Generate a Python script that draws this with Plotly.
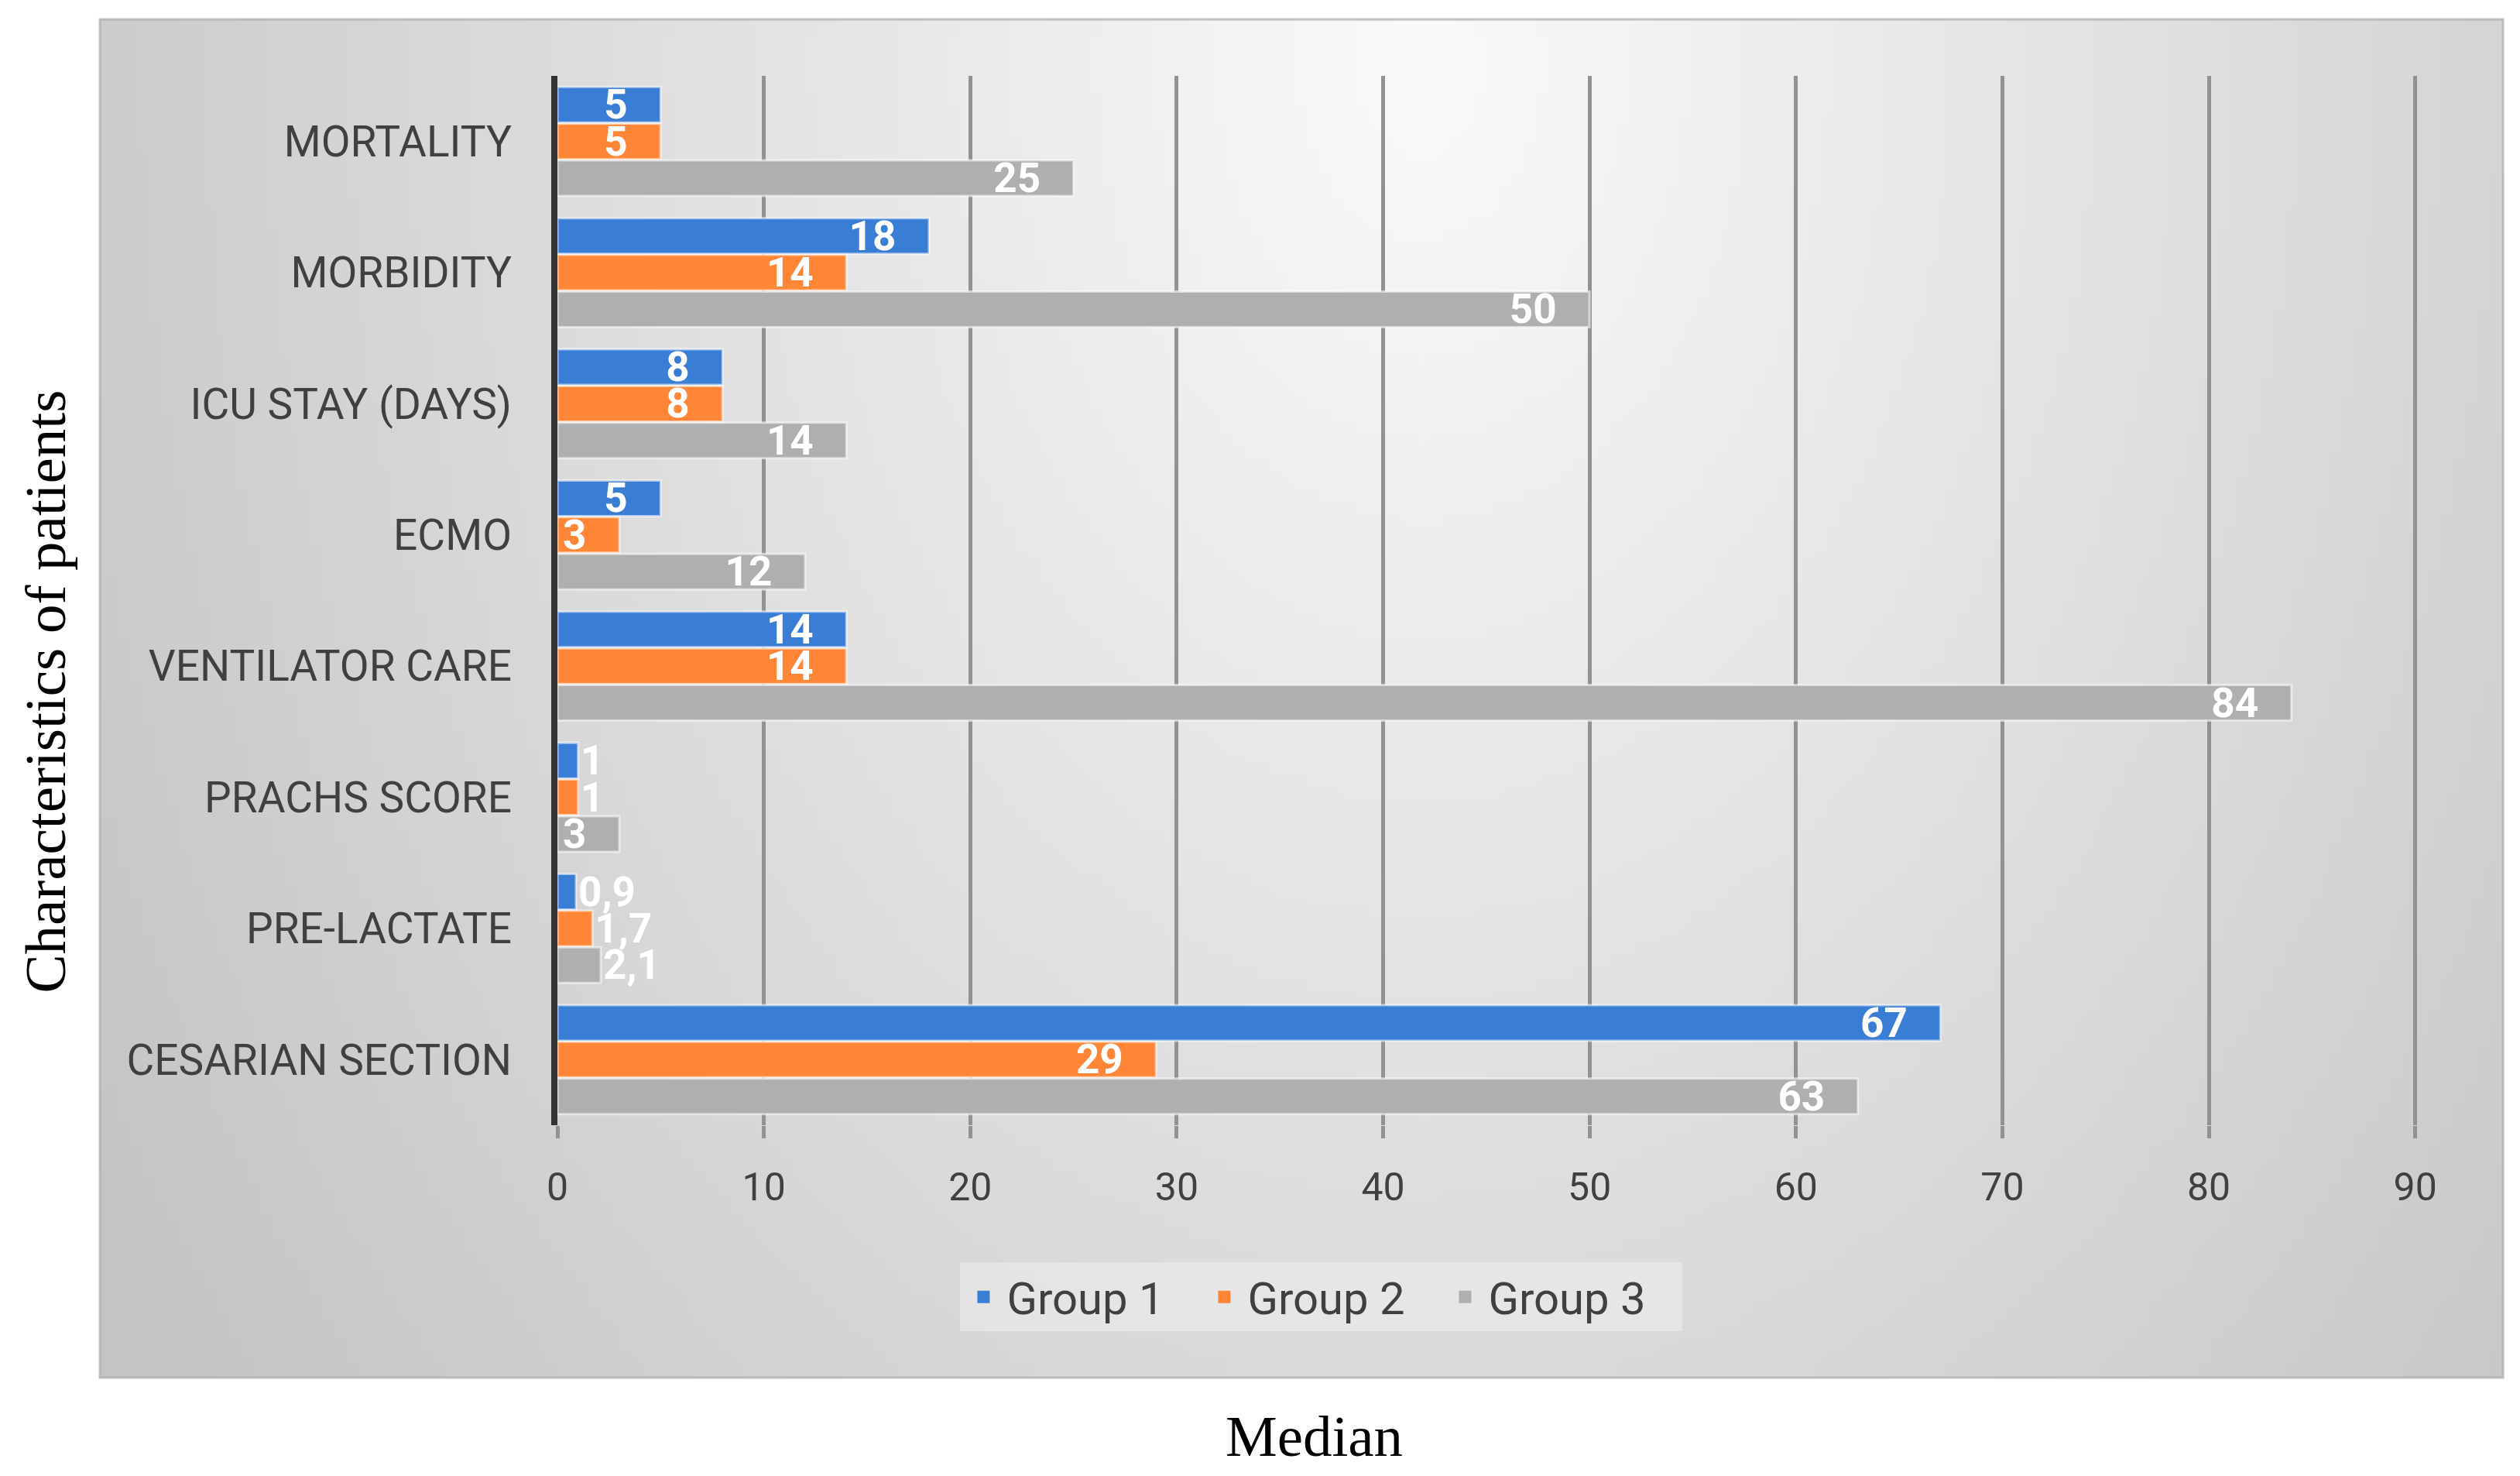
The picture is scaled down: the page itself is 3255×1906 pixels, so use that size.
import base64
import struct
import zlib

import plotly.graph_objects as go

# ---------------- data ----------------
categories = ["MORTALITY", "MORBIDITY", "ICU STAY (DAYS)", "ECMO",
              "VENTILATOR CARE", "PRACHS SCORE", "PRE-LACTATE", "CESARIAN SECTION"]
group1 = [5, 18, 8, 5, 14, 1, 0.9, 67]
group2 = [5, 14, 8, 3, 14, 1, 1.7, 29]
group3 = [25, 50, 14, 12, 84, 3, 2.1, 63]
series_names = ["Group 1", "Group 2", "Group 3"]
x_ticks = [0, 10, 20, 30, 40, 50, 60, 70, 80, 90]

colors = ["#3A7DD4", "#FF8636", "#AFAFAF"]

# ---------------- gradient background image ----------------
def gradient_png(w, h):
    rows = []
    for j in range(h):
        fy = j / (h - 1)
        row = bytearray([0])
        for i in range(w):
            fx = i / (w - 1)
            dx = (fx - 0.55) / 0.65
            dy = (fy - 0.03) / 1.6
            d = min(1.0, (dx * dx + dy * dy) ** 0.5)
            v = int(round(250 - (250 - 196) * d))
            row.append(v)
        rows.append(bytes(row))
    raw = b"".join(rows)

    def chunk(tag, data):
        c = struct.pack(">I", len(data)) + tag + data
        return c + struct.pack(">I", zlib.crc32(tag + data) & 0xFFFFFFFF)

    png = b"\x89PNG\r\n\x1a\n"
    png += chunk(b"IHDR", struct.pack(">IIBBBBB", w, h, 8, 0, 0, 0, 0))
    png += chunk(b"IDAT", zlib.compress(raw, 9))
    png += chunk(b"IEND", b"")
    return "data:image/png;base64," + base64.b64encode(png).decode()


def fmt(v):
    return ("%g" % v).replace(".", ",")


font_sans = "Roboto, Arial, sans-serif"
font_serif = "Liberation Serif, Times New Roman, serif"

fig = go.Figure()
for name, vals, col in zip(series_names, [group1, group2, group3], colors):
    pos = ["inside" if v >= 3 else "outside" for v in vals]
    txt = [fmt(v) + ("\u00a0\u00a0\u00a0" if v >= 3 else "") for v in vals]
    fig.add_trace(go.Bar(
        name=name, y=categories, x=vals, orientation="h",
        legendgroup=name, showlegend=False,
        marker=dict(color=col, line=dict(color="rgba(255,255,255,0.55)", width=3)),
        text=txt, textposition=pos, textangle=0, constraintext="none",
        insidetextanchor="end",
        insidetextfont=dict(family=font_sans, size=53, color="white", weight="bold"),
        outsidetextfont=dict(family=font_sans, size=53, color="white", weight="bold"),
        cliponaxis=False,
    ))
# legend swatches (larger squares than the default bar icon)
for name, col in zip(series_names, colors):
    fig.add_trace(go.Scatter(
        name=name, x=[None], y=[None], mode="markers", legendgroup=name,
        marker=dict(symbol="square", size=16, color=col, line=dict(width=0)),
        hoverinfo="skip",
    ))

fig.update_layout(
    width=3247, height=1898,
    margin=dict(l=712, r=122, t=90, b=453),
    paper_bgcolor="white",
    plot_bgcolor="rgba(0,0,0,0)",
    barmode="group", bargap=0.16, bargroupgap=0.03,
    font=dict(family=font_sans, color="#404040"),
    showlegend=True,
    legend=dict(orientation="h", x=0.409, y=-0.1638, xanchor="center", yanchor="middle",
                font=dict(family=font_sans, size=58, color="#404040"),
                bgcolor="rgba(245,245,245,0.45)", borderwidth=0,
                itemsizing="trace", itemwidth=50,
                entrywidthmode="pixels", entrywidth=246),
    images=[dict(source=gradient_png(200, 120), xref="paper", yref="paper",
                 x=-0.2449, y=1.0539, sizex=1.2864, sizey=1.2945,
                 xanchor="left", yanchor="top", sizing="stretch", layer="below")],
    shapes=[dict(type="rect", xref="paper", yref="paper", x0=-0.2449, x1=1.0415,
                 y0=-0.2406, y1=1.0539, line=dict(color="rgba(170,170,170,0.7)", width=3),
                 fillcolor="rgba(0,0,0,0)", layer="below")],
    annotations=[
        dict(text="Median", xref="paper", yref="paper", x=0.4053, y=-0.296,
             xanchor="center", yanchor="middle", showarrow=False,
             font=dict(family=font_serif, size=75, color="black")),
        dict(text="Characteristics of patients", xref="paper", yref="paper",
             x=-0.2743, y=0.413, xanchor="center", yanchor="middle", textangle=-90,
             showarrow=False, font=dict(family=font_serif, size=75, color="black")),
    ],
)

fig.update_xaxes(range=[0, 90.5], tickvals=x_ticks, showgrid=True, gridcolor="#929292",
                 gridwidth=5, zeroline=False, showline=False, ticks="outside", ticklen=16,
                 tickwidth=5, tickcolor="#929292", ticklabelstandoff=20,
                 tickfont=dict(family=font_sans, size=50, color="#404040"))
fig.update_yaxes(categoryorder="array", categoryarray=categories, autorange="reversed",
                 showgrid=False, showline=True, linecolor="#333333", linewidth=8,
                 ticks="", ticklabelstandoff=40,
                 tickfont=dict(family=font_sans, size=55, color="#404040"))

fig.write_html("out.html")
